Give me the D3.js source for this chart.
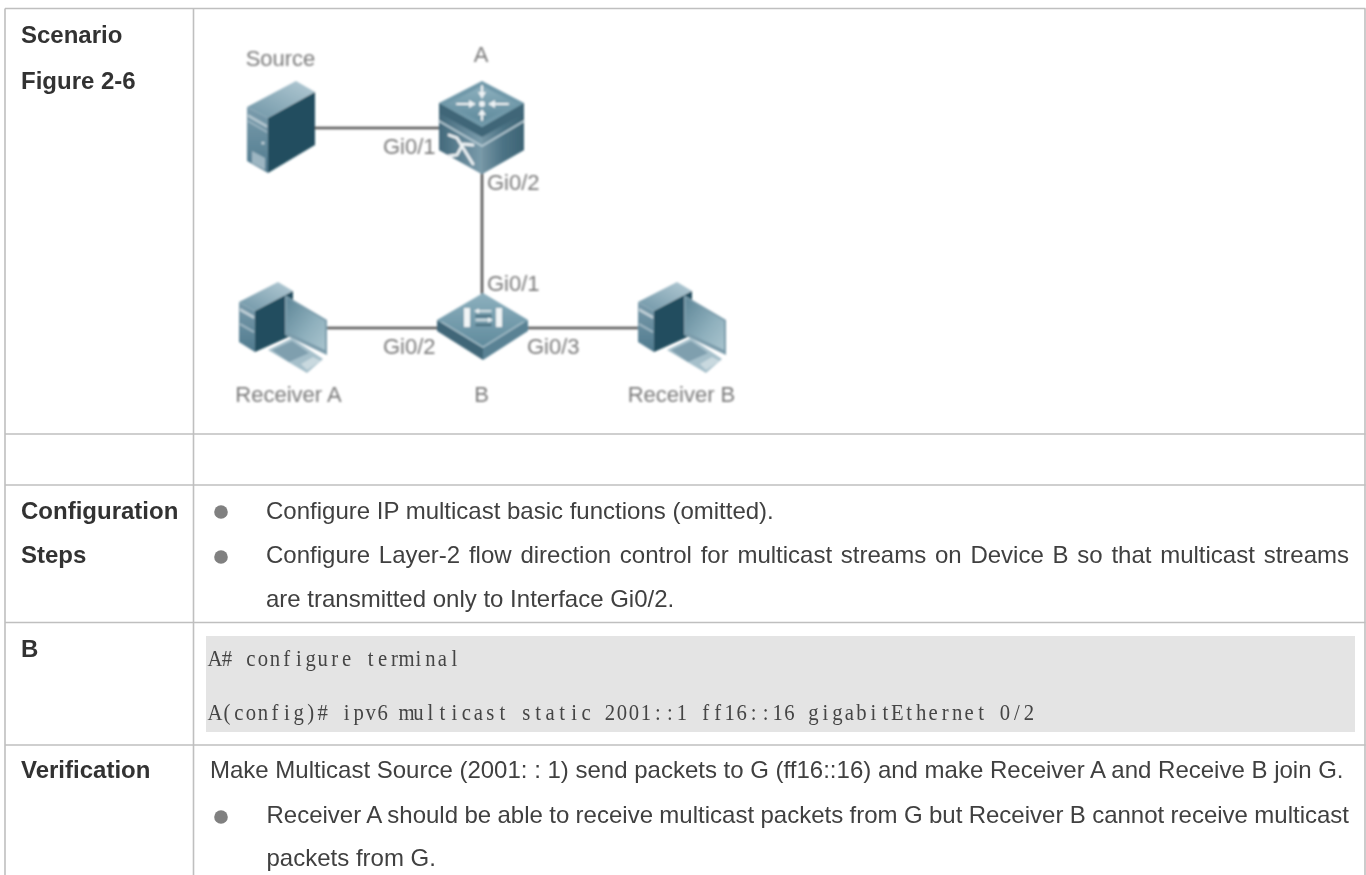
<!DOCTYPE html>
<html>
<head>
<meta charset="utf-8">
<script src="https://cdn.jsdelivr.net/npm/d3@7/dist/d3.min.js"></script>
<style>
html, body { margin: 0; padding: 0; background: #fff; overflow: hidden; }
svg { display: block; }
.label { font-family: "Liberation Sans", Arial, sans-serif; font-size: 24px; font-weight: bold; fill: #333; }
.body { font-family: "Liberation Sans", Arial, sans-serif; font-size: 24px; fill: #404040; }
.code { font-family: "Liberation Serif", serif; font-size: 23px; fill: #444; }
.net { font-family: "Liberation Sans", Arial, sans-serif; font-size: 22px; fill: #7a7a7a; }
</style>
</head>
<body>
<div class="sheet"></div>
<script>
// texts of the table
var rowLabels = ['Scenario', 'Figure 2-6', 'Configuration', 'Steps', 'B', 'Verification'];
var stepLines = [
  'Configure IP multicast basic functions (omitted).',
  'Configure Layer-2 flow direction control for multicast streams on Device B so that multicast streams',
  'are transmitted only to Interface Gi0/2.'
];
var codeLines = [
  'A# configure terminal',
  'A(config)# ipv6 multicast static 2001::1 ff16::16 gigabitEthernet 0/2'
];
var verifyLines = [
  'Make Multicast Source (2001: : 1) send packets to G (ff16::16) and make Receiver A and Receive B join G.',
  'Receiver A should be able to receive multicast packets from G but Receiver B cannot receive multicast',
  'packets from G.'
];
// texts of the network figure
var deviceNames = ['Source', 'A', 'Receiver A', 'B', 'Receiver B'];
var portNames = ['Gi0/1', 'Gi0/2', 'Gi0/1', 'Gi0/2', 'Gi0/3'];

var width = 1366;
var height = 875;

var svg = d3.select(".sheet")
.append("svg")
.attr("width", width)
.attr("height", height)
.attr("viewBox", "0 0 " + width + " " + height);

var defs = svg.append("defs");

function blur(id, amount) {
  defs.append("filter")
  .attr("id", id)
  .attr("x", "-5%").attr("y", "-5%")
  .attr("width", "110%").attr("height", "110%")
  .append("feGaussianBlur")
  .attr("stdDeviation", amount);
}
blur("soft", 0.8);
blur("softText", 0.35);

function gradient(id, x1, y1, x2, y2, stops) {
  var g = defs.append("linearGradient")
  .attr("id", id)
  .attr("x1", x1).attr("y1", y1).attr("x2", x2).attr("y2", y2);
  stops.forEach(function(s) {
    g.append("stop").attr("offset", s[0]).attr("stop-color", s[1]);
  });
}
gradient("towerTop", 0, 1, 1, 0, [[0, "#6f95a6"], [1, "#b4cbd5"]]);
gradient("towerSide", 0, 0, 0, 1, [[0, "#7b9cac"], [1, "#4f7a8e"]]);
gradient("screen", 0, 0, 1, 1, [[0, "#5f8798"], [0.6, "#8fb0bd"], [1, "#a9c4ce"]]);
gradient("boxLeft", 0, 0, 1, 0, [[0, "#43697b"], [0.75, "#6d8fa0"], [1, "#7b9cab"]]);
gradient("boxRight", 0, 0, 1, 0, [[0, "#7595a4"], [0.5, "#4c7385"], [1, "#3d6374"]]);
gradient("boxTop", 0, 0, 0, 1, [[0, "#8db0be"], [1, "#5f8a9c"]]);

// table grid
var gridColor = "#bfbfbf";
var rules = [
  [5, 8.5, 1365.5, 8.5], [5, 434, 1365.5, 434], [5, 485, 1365.5, 485],
  [5, 622.5, 1365.5, 622.5], [5, 745, 1365.5, 745],
  [5, 8.5, 5, 875], [193.5, 8.5, 193.5, 875], [1365, 8.5, 1365, 875]
];
svg.append("g")
.selectAll("line")
.data(rules)
.enter().append("line")
.attr("x1", function(d) { return d[0]; })
.attr("y1", function(d) { return d[1]; })
.attr("x2", function(d) { return d[2]; })
.attr("y2", function(d) { return d[3]; })
.style("stroke", gridColor)
.style("stroke-width", 1.6);

// shaded block behind the commands
svg.append("rect")
.attr("x", 206).attr("y", 636)
.attr("width", 1149).attr("height", 96)
.style("fill", "#e4e4e4");

var page = svg.append("g").attr("filter", "url(#softText)");

page.append("g")
.selectAll("text")
.data(rowLabels)
.enter().append("text")
.attr("class", "label")
.attr("x", 21)
.attr("y", function(d, i) { return [43, 89, 519, 563, 657, 778][i]; })
.text(function(d) { return d; });

// stretches the spaces so a line ends where the justified original ends
function bodyLine(text, x, y, endX) {
  var t = page.append("text")
  .attr("class", "body")
  .attr("x", x)
  .attr("y", y)
  .text(text);
  if (endX) {
    var spaces = text.split(" ").length - 1;
    var spare = (endX - x) - t.node().getComputedTextLength();
    t.style("word-spacing", (spare / spaces) + "px");
  }
}
bodyLine(stepLines[0], 266, 519);
bodyLine(stepLines[1], 266, 563, 1349);
bodyLine(stepLines[2], 266, 607);
bodyLine(verifyLines[0], 210, 778, 1343.5);
bodyLine(verifyLines[1], 266.5, 823, 1349);
bodyLine(verifyLines[2], 266.5, 866);

page.append("g")
.selectAll("circle")
.data([[221, 512], [221, 557], [221, 817]])
.enter().append("circle")
.attr("cx", function(d) { return d[0]; })
.attr("cy", function(d) { return d[1]; })
.attr("r", 6.8)
.style("fill", "#808080");

// commands: serif squeezed onto a 12px cell, like the fixed pitch original
var squeeze = 0.9;
page.append("g")
.selectAll("text")
.data(codeLines)
.enter().append("text")
.attr("class", "code")
.attr("transform", function(d, i) { return "translate(209," + [666, 720][i] + ") scale(" + squeeze + ",1)"; })
.attr("text-anchor", "middle")
.attr("xml:space", "preserve")
.attr("x", function(d) {
  return d.split("").map(function(c, i) { return ((i + 0.5) * 11.97 / squeeze).toFixed(2); }).join(" ");
})
.text(function(d) { return d; });

// network figure
var net = svg.append("g").attr("filter", "url(#soft)");

var links = [[315, 128, 439, 128], [482, 172, 482, 294], [327, 328, 437, 328], [527, 328, 638, 328]];
net.append("g")
.selectAll("line")
.data(links)
.enter().append("line")
.attr("x1", function(d) { return d[0]; })
.attr("y1", function(d) { return d[1]; })
.attr("x2", function(d) { return d[2]; })
.attr("y2", function(d) { return d[3]; })
.style("stroke", "#555")
.style("stroke-width", 2.6);

var line = d3.line();

function poly(parent, pts, fill) {
  parent.append("path")
  .attr("d", line(pts) + "Z")
  .style("fill", fill);
}

function stroke(parent, pts, color, w) {
  parent.append("path")
  .attr("d", line(pts))
  .style("fill", "none")
  .style("stroke", color)
  .style("stroke-width", w)
  .style("stroke-linecap", "round");
}

function tower(parent) {
  poly(parent, [[296, 81], [315, 92], [268, 118], [247, 107]], "url(#towerTop)");
  poly(parent, [[268, 118], [315, 92], [315, 145], [268, 173]], "#214d5e");
  poly(parent, [[247, 107], [268, 118], [268, 173], [247, 161]], "url(#towerSide)");
  poly(parent, [[248, 114], [267, 125], [267, 128], [248, 117]], "#b5c8d1");
  poly(parent, [[248, 120], [267, 131], [267, 133], [248, 122]], "#9db6c2");
  poly(parent, [[252, 151], [265, 158], [265, 170], [252, 163]], "#9db6c2");
  parent.append("circle").attr("cx", 263).attr("cy", 143).attr("r", 1.6).style("fill", "#c4d4db");
}

function computer(parent, dx) {
  var g = parent.append("g").attr("transform", "translate(" + dx + ",0)");
  poly(g, [[278, 282], [293, 291], [255, 311], [239, 302]], "url(#towerTop)");
  poly(g, [[255, 311], [293, 291], [293, 335], [255, 352]], "#214d5e");
  poly(g, [[239, 302], [255, 311], [255, 352], [239, 342]], "url(#towerSide)");
  poly(g, [[240, 308], [254, 316], [254, 319], [240, 311]], "#c2d2d9");
  poly(g, [[240, 323], [254, 331], [254, 333], [240, 325]], "#a5bcc7");
  poly(g, [[285, 295], [327, 320], [327, 355], [285, 335]], "#7b9cab");
  poly(g, [[287, 298], [325, 321], [325, 350], [287, 332]], "url(#screen)");
  poly(g, [[268, 350], [292, 338], [323, 359], [307, 373]], "#a5bfca");
  poly(g, [[272, 350], [292, 341], [309, 353], [289, 362]], "#7f9fae");
  poly(g, [[301, 364], [313, 357], [321, 361], [307, 370]], "#c9d9df");
}

function switchA(parent) {
  var white = "#eef3f5";
  poly(parent, [[439, 103], [482, 127], [524, 103], [524, 150], [482, 174], [439, 150]], "#4f7a8e");
  poly(parent, [[439, 103], [482, 127], [482, 174], [439, 150]], "url(#boxLeft)");
  poly(parent, [[482, 127], [524, 103], [524, 150], [482, 174]], "url(#boxRight)");
  poly(parent, [[439, 103], [482, 127], [482, 137], [439, 113]], "#3f6678");
  poly(parent, [[482, 127], [524, 103], [524, 113], [482, 137]], "#3f6678");
  stroke(parent, [[439, 121], [482, 146], [524, 121]], "#b8ccd5", 1.6);
  poly(parent, [[482, 81], [524, 103], [482, 127], [439, 103]], "#6f98a9");
  poly(parent, [[482, 86], [517, 104], [482, 122], [447, 104]], "url(#boxTop)");
  // four arrows pointing at the middle
  stroke(parent, [[457, 104], [470, 104]], white, 2.2);
  poly(parent, [[476, 104], [469, 100], [469, 108]], white);
  stroke(parent, [[494, 104], [508, 104]], white, 2.2);
  poly(parent, [[488, 104], [495, 100], [495, 108]], white);
  stroke(parent, [[482, 86], [482, 93]], white, 2.2);
  poly(parent, [[482, 99], [478, 92], [486, 92]], white);
  stroke(parent, [[482, 114], [482, 120]], white, 2.2);
  poly(parent, [[482, 109], [478, 115], [486, 115]], white);
  parent.append("circle").attr("cx", 482).attr("cy", 104).attr("r", 3).style("fill", white);
  // crossing paths on the front face
  stroke(parent, [[449, 135], [457, 138], [465, 151], [473, 164]], white, 2.8);
  stroke(parent, [[449, 156], [457, 155], [463, 144], [473, 145]], white, 2.8);
}

function switchB(parent) {
  var white = "#f1f5f6";
  poly(parent, [[437, 320], [483, 348], [483, 360], [437, 331]], "#3f6678");
  poly(parent, [[483, 348], [528, 320], [528, 331], [483, 360]], "#5a8294");
  poly(parent, [[483, 293], [528, 320], [483, 348], [437, 320]], "url(#boxTop)");
  stroke(parent, [[442, 322], [483, 347], [523, 322]], "#a3bcc7", 1.2);
  poly(parent, [[464, 308], [470, 308], [470, 327], [464, 327]], white);
  poly(parent, [[496, 308], [502, 308], [502, 327], [496, 327]], white);
  stroke(parent, [[477, 311], [491, 311]], white, 1.4);
  poly(parent, [[474, 311], [479, 308.5], [479, 313.5]], white);
  stroke(parent, [[476, 316], [491, 316]], "#2f5667", 1.6);
  stroke(parent, [[476, 320], [490, 320]], white, 1.4);
  poly(parent, [[493, 320], [488, 317.5], [488, 322.5]], white);
  stroke(parent, [[476, 325], [491, 325]], "#2f5667", 1.4);
}

tower(net.append("g"));
computer(net, 0);
computer(net, 399);
switchA(net.append("g"));
switchB(net.append("g"));

net.append("g")
.selectAll("text")
.data(deviceNames)
.enter().append("text")
.attr("class", "net")
.attr("text-anchor", "middle")
.attr("x", function(d, i) { return [280.5, 481, 288.5, 481.5, 681.5][i]; })
.attr("y", function(d, i) { return [66, 62, 402, 402, 402][i]; })
.text(function(d) { return d; });

net.append("g")
.selectAll("text")
.data(portNames)
.enter().append("text")
.attr("class", "net")
.attr("x", function(d, i) { return [383, 487, 487, 383, 527][i]; })
.attr("y", function(d, i) { return [154, 190, 291, 354, 354][i]; })
.text(function(d) { return d; });
</script>
</body>
</html>
